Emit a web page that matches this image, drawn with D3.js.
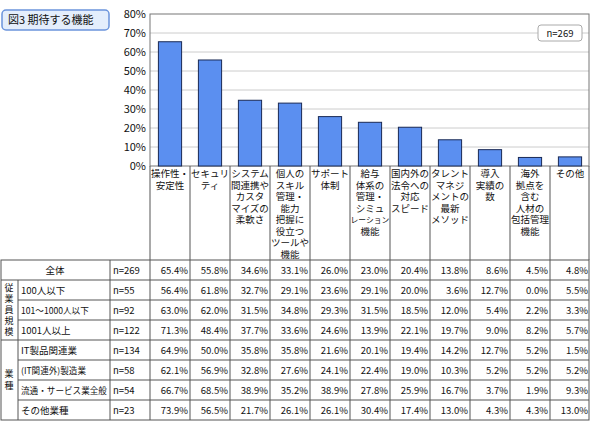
<!DOCTYPE html>
<html><head><meta charset="utf-8">
<script src="https://cdn.jsdelivr.net/npm/d3@7"></script>
<style>body{margin:0;background:#fff}svg{display:block}text{font-family:"Noto Sans CJK JP",sans-serif;font-size:9.5px;fill:#111}</style>
</head><body><svg id="c" width="590" height="433"></svg>
<script>
const categories=[["操作性・","安定性"],["セキュリ","ティ"],["システム","間連携や","カスタ","マイズの","柔軟さ"],["個人の","スキル","管理・","能力","把握に","役立つ","ツールや","機能"],["サポート","体制"],["給与","体系の","管理・","シミュ","レーション","機能"],["国内外の","法令への","対応","スピード"],["タレント","マネジ","メントの","最新","メソッド"],["導入","実績の","数"],["海外","拠点を","含む","人材の","包括管理","機能"],["その他"]];
const yTicks=[0,10,20,30,40,50,60,70,80];
const rowNames=["全体","100人以下","101～1000人以下","1001人以上","IT製品関連業","(IT関連外)製造業","流通・サービス業全般","その他業種"];
const rowN=[269,55,92,122,134,58,54,23];
const groups=[{name:"従業員規模",from:1,to:3},{name:"業種",from:4,to:7}];
const tableValues=[
[65.4,55.8,34.6,33.1,26.0,23.0,20.4,13.8,8.6,4.5,4.8],
[56.4,61.8,32.7,29.1,23.6,29.1,20.0,3.6,12.7,0.0,5.5],
[63.0,62.0,31.5,34.8,29.3,31.5,18.5,12.0,5.4,2.2,3.3],
[71.3,48.4,37.7,33.6,24.6,13.9,22.1,19.7,9.0,8.2,5.7],
[64.9,50.0,35.8,35.8,21.6,20.1,19.4,14.2,12.7,5.2,1.5],
[62.1,56.9,32.8,27.6,24.1,22.4,19.0,10.3,5.2,5.2,5.2],
[66.7,68.5,38.9,35.2,38.9,27.8,25.9,16.7,3.7,1.9,9.3],
[73.9,56.5,21.7,26.1,26.1,30.4,17.4,13.0,4.3,4.3,13.0]];
const svg=d3.select("#c");
const x=d3.scaleBand().domain(d3.range(categories.length)).range([150,590]).paddingInner(0.42).paddingOuter(0.21);
const xc=d3.scaleBand().domain(d3.range(categories.length)).range([150,590]);
const y=d3.scaleLinear().domain([0,80]).range([166,14]);
svg.selectAll(".g").data(yTicks.slice(1,-1)).join("line").attr("x1",150).attr("x2",589).attr("y1",d=>y(d)).attr("y2",d=>y(d)).attr("stroke","#ccc");
svg.append("rect").attr("x",150).attr("y",y(80)).attr("width",439).attr("height",y(0)-y(80)).attr("fill","none").attr("stroke","#777");
svg.selectAll(".yt").data(yTicks).join("text").attr("x",146).attr("y",d=>y(d)+4).attr("text-anchor","end").style("font-size","11px").text(d=>d+"%");
svg.selectAll(".b").data(tableValues[0]).join("rect").attr("x",(d,i)=>x(i)).attr("width",x.bandwidth()).attr("y",d=>y(d)).attr("height",d=>y(0)-y(d)).attr("fill","#5b8ff0").attr("stroke","#1a2a55").attr("stroke-width",1);
const tTop=260,rh=20;
svg.selectAll(".vl").data(d3.range(categories.length+1)).join("line").attr("x1",d=>d<categories.length?xc(d):589).attr("x2",d=>d<categories.length?xc(d):589).attr("y1",166).attr("y2",tTop).attr("stroke","#555");
categories.forEach((lines,i)=>{
 svg.append("text").attr("text-anchor","middle").selectAll("tspan").data(lines).join("tspan").attr("x",xc(i)+xc.bandwidth()/2).attr("y",(d,j)=>177+j*11.5).style("font-size",d=>d.length>4?"7.8px":"9.5px").text(d=>d);
});
svg.append("rect").attr("x",1).attr("y",tTop).attr("width",588).attr("height",rh*rowNames.length).attr("fill","none").attr("stroke","#555");
d3.range(1,rowNames.length).forEach(r=>{
 const yy=tTop+r*rh; const inGroup=groups.some(g=>r>g.from&&r<=g.to);
 svg.append("line").attr("x1",inGroup?18:1).attr("x2",589).attr("y1",yy).attr("y2",yy).attr("stroke","#555");
});
svg.append("line").attr("x1",18).attr("x2",18).attr("y1",tTop+rh).attr("y2",tTop+rh*rowNames.length).attr("stroke","#555");
[110,150].concat(d3.range(1,categories.length).map(i=>xc(i))).forEach(xx=>svg.append("line").attr("x1",xx).attr("x2",xx).attr("y1",tTop).attr("y2",tTop+rh*rowNames.length).attr("stroke","#555"));
groups.forEach(g=>{
 const top=tTop+g.from*rh,h=(g.to-g.from+1)*rh,chars=[...g.name];
 const sp=chars.length>3?11:12;
 svg.append("text").attr("text-anchor","middle").selectAll("tspan").data(chars).join("tspan").attr("x",9).attr("y",(d,j)=>top+h/2-(chars.length*sp)/2+8.5+j*sp).style("font-size","9px").text(d=>d);
});
rowNames.forEach((n,r)=>{
 const cy=tTop+r*rh+rh/2+4;
 if(r===0) svg.append("text").attr("x",55).attr("y",cy).attr("text-anchor","middle").text(n);
 else svg.append("text").attr("x",21).attr("y",cy).style("font-size",n.length>9?"8.6px":"9.5px").text(n);
 svg.append("text").attr("x",113).attr("y",cy).text("n="+rowN[r]);
 tableValues[r].forEach((v,i)=>svg.append("text").attr("x",xc(i)+xc.bandwidth()-2).attr("y",cy).attr("text-anchor","end").text(v.toFixed(1)+"%"));
});
svg.append("rect").attr("x",2).attr("y",10).attr("width",107).attr("height",20).attr("rx",4).attr("fill","#e4eefc").attr("stroke","#6b94dc").attr("stroke-width",1.5);
svg.append("text").attr("x",8).attr("y",24).style("font-size","11px").text("図3 期待する機能");
svg.append("rect").attr("x",538).attr("y",25).attr("width",44).attr("height",16).attr("rx",3).attr("fill","#fff").attr("stroke","#aaa");
svg.append("text").attr("x",560).attr("y",37).attr("text-anchor","middle").text("n=269");
</script></body></html>
